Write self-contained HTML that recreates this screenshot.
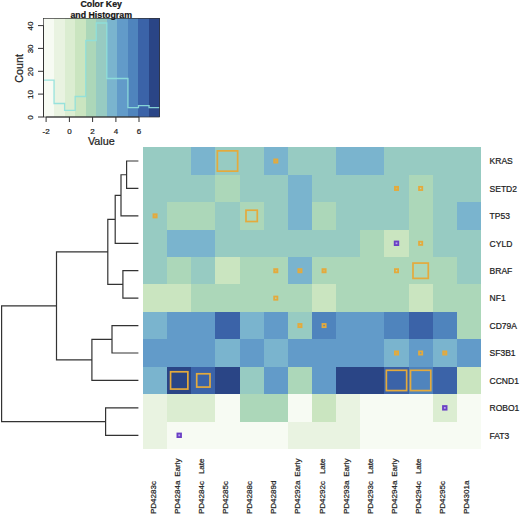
<!DOCTYPE html><html><head><meta charset="utf-8"><style>html,body{margin:0;padding:0;background:#fff;width:520px;height:515px;overflow:hidden}svg{display:block}text{font-family:"Liberation Sans", sans-serif}.t{stroke:#222;stroke-width:0.22px}</style></head><body>
<svg width="520" height="515" viewBox="0 0 520 515">
<rect width="520" height="515" fill="#fff"/>
<g shape-rendering="crispEdges">
<rect x="44" y="18" width="10" height="99" fill="#f7fbf3"/>
<rect x="54" y="18" width="11" height="99" fill="#e9f3e1"/>
<rect x="65" y="18" width="10" height="99" fill="#dbedd1"/>
<rect x="75" y="18" width="11" height="99" fill="#cae5c0"/>
<rect x="86" y="18" width="10" height="99" fill="#acd7b9"/>
<rect x="96" y="18" width="11" height="99" fill="#97cbc2"/>
<rect x="107" y="18" width="10" height="99" fill="#7ab4ce"/>
<rect x="117" y="18" width="11" height="99" fill="#629bc9"/>
<rect x="128" y="18" width="10" height="99" fill="#4f84bd"/>
<rect x="138" y="18" width="11" height="99" fill="#3b63a8"/>
<rect x="149" y="18" width="11" height="99" fill="#2a4586"/>
</g>
<path d="M43.5 80.2 L54.05 80.2 L54.05 103.5 L64.61 103.5 L64.61 110.3 L75.16 110.3 L75.16 96.5 L85.72 96.5 L85.72 40.5 L96.27 40.5 L96.27 23 L106.83 23 L106.83 78.5 L117.38 78.5 L117.38 78.5 L127.94 78.5 L127.94 107.7 L138.49 107.7 L138.49 105.7 L149.05 105.7 L149.05 107.7 L159.6 107.7" fill="none" stroke="#8ee0dc" stroke-width="1.3" opacity="0.9"/>
<rect x="43.5" y="18.5" width="116" height="98.5" fill="none" stroke="#333" stroke-width="0.7"/>
<line x1="46.1" y1="117" x2="139" y2="117" stroke="#333" stroke-width="1"/>
<line x1="46.1" y1="117" x2="46.1" y2="122" stroke="#333" stroke-width="1"/>
<text class="t" x="46.1" y="134" font-size="8" text-anchor="middle" fill="#222">-2</text>
<line x1="69.4" y1="117" x2="69.4" y2="122" stroke="#333" stroke-width="1"/>
<text class="t" x="69.4" y="134" font-size="8" text-anchor="middle" fill="#222">0</text>
<line x1="92.6" y1="117" x2="92.6" y2="122" stroke="#333" stroke-width="1"/>
<text class="t" x="92.6" y="134" font-size="8" text-anchor="middle" fill="#222">2</text>
<line x1="115.9" y1="117" x2="115.9" y2="122" stroke="#333" stroke-width="1"/>
<text class="t" x="115.9" y="134" font-size="8" text-anchor="middle" fill="#222">4</text>
<line x1="139" y1="117" x2="139" y2="122" stroke="#333" stroke-width="1"/>
<text class="t" x="139" y="134" font-size="8" text-anchor="middle" fill="#222">6</text>
<text class="t" x="101.3" y="144.7" font-size="10.8" text-anchor="middle" fill="#222">Value</text>
<line x1="43.5" y1="117" x2="43.5" y2="25.6" stroke="#333" stroke-width="1"/>
<line x1="38" y1="117" x2="43.5" y2="117" stroke="#333" stroke-width="1"/>
<text class="t" transform="translate(32.6 117.5) rotate(-90)" font-size="8" text-anchor="middle" fill="#222">0</text>
<line x1="38" y1="94.1" x2="43.5" y2="94.1" stroke="#333" stroke-width="1"/>
<text class="t" transform="translate(32.6 94.6) rotate(-90)" font-size="8" text-anchor="middle" fill="#222">10</text>
<line x1="38" y1="71.3" x2="43.5" y2="71.3" stroke="#333" stroke-width="1"/>
<text class="t" transform="translate(32.6 71.8) rotate(-90)" font-size="8" text-anchor="middle" fill="#222">20</text>
<line x1="38" y1="48.4" x2="43.5" y2="48.4" stroke="#333" stroke-width="1"/>
<text class="t" transform="translate(32.6 48.9) rotate(-90)" font-size="8" text-anchor="middle" fill="#222">30</text>
<line x1="38" y1="25.6" x2="43.5" y2="25.6" stroke="#333" stroke-width="1"/>
<text class="t" transform="translate(32.6 26.1) rotate(-90)" font-size="8" text-anchor="middle" fill="#222">40</text>
<text class="t" transform="translate(22.9 68.3) rotate(-90)" font-size="10.8" text-anchor="middle" fill="#222">Count</text>
<text class="t" x="101.2" y="7.3" font-size="8.8" font-weight="bold" text-anchor="middle" fill="#111">Color Key</text>
<text class="t" x="101.2" y="17.7" font-size="8.8" font-weight="bold" text-anchor="middle" fill="#111">and Histogram</text>
<g shape-rendering="crispEdges">
<rect x="143" y="147" width="24" height="28" fill="#97cbc2"/>
<rect x="167" y="147" width="24" height="28" fill="#97cbc2"/>
<rect x="191" y="147" width="24" height="28" fill="#7ab4ce"/>
<rect x="215" y="147" width="25" height="28" fill="#97cbc2"/>
<rect x="240" y="147" width="24" height="28" fill="#97cbc2"/>
<rect x="264" y="147" width="24" height="28" fill="#7ab4ce"/>
<rect x="288" y="147" width="24" height="28" fill="#97cbc2"/>
<rect x="312" y="147" width="24" height="28" fill="#97cbc2"/>
<rect x="336" y="147" width="24" height="28" fill="#7ab4ce"/>
<rect x="360" y="147" width="24" height="28" fill="#7ab4ce"/>
<rect x="384" y="147" width="25" height="28" fill="#97cbc2"/>
<rect x="409" y="147" width="24" height="28" fill="#97cbc2"/>
<rect x="433" y="147" width="24" height="28" fill="#97cbc2"/>
<rect x="457" y="147" width="24" height="28" fill="#97cbc2"/>
<rect x="143" y="175" width="24" height="27" fill="#97cbc2"/>
<rect x="167" y="175" width="24" height="27" fill="#97cbc2"/>
<rect x="191" y="175" width="24" height="27" fill="#97cbc2"/>
<rect x="215" y="175" width="25" height="27" fill="#acd7b9"/>
<rect x="240" y="175" width="24" height="27" fill="#97cbc2"/>
<rect x="264" y="175" width="24" height="27" fill="#97cbc2"/>
<rect x="288" y="175" width="24" height="27" fill="#7ab4ce"/>
<rect x="312" y="175" width="24" height="27" fill="#97cbc2"/>
<rect x="336" y="175" width="24" height="27" fill="#97cbc2"/>
<rect x="360" y="175" width="24" height="27" fill="#97cbc2"/>
<rect x="384" y="175" width="25" height="27" fill="#97cbc2"/>
<rect x="409" y="175" width="24" height="27" fill="#acd7b9"/>
<rect x="433" y="175" width="24" height="27" fill="#97cbc2"/>
<rect x="457" y="175" width="24" height="27" fill="#97cbc2"/>
<rect x="143" y="202" width="24" height="28" fill="#97cbc2"/>
<rect x="167" y="202" width="24" height="28" fill="#acd7b9"/>
<rect x="191" y="202" width="24" height="28" fill="#acd7b9"/>
<rect x="215" y="202" width="25" height="28" fill="#97cbc2"/>
<rect x="240" y="202" width="24" height="28" fill="#acd7b9"/>
<rect x="264" y="202" width="24" height="28" fill="#97cbc2"/>
<rect x="288" y="202" width="24" height="28" fill="#7ab4ce"/>
<rect x="312" y="202" width="24" height="28" fill="#acd7b9"/>
<rect x="336" y="202" width="24" height="28" fill="#97cbc2"/>
<rect x="360" y="202" width="24" height="28" fill="#97cbc2"/>
<rect x="384" y="202" width="25" height="28" fill="#97cbc2"/>
<rect x="409" y="202" width="24" height="28" fill="#acd7b9"/>
<rect x="433" y="202" width="24" height="28" fill="#97cbc2"/>
<rect x="457" y="202" width="24" height="28" fill="#7ab4ce"/>
<rect x="143" y="230" width="24" height="27" fill="#97cbc2"/>
<rect x="167" y="230" width="24" height="27" fill="#7ab4ce"/>
<rect x="191" y="230" width="24" height="27" fill="#7ab4ce"/>
<rect x="215" y="230" width="25" height="27" fill="#97cbc2"/>
<rect x="240" y="230" width="24" height="27" fill="#97cbc2"/>
<rect x="264" y="230" width="24" height="27" fill="#97cbc2"/>
<rect x="288" y="230" width="24" height="27" fill="#97cbc2"/>
<rect x="312" y="230" width="24" height="27" fill="#97cbc2"/>
<rect x="336" y="230" width="24" height="27" fill="#97cbc2"/>
<rect x="360" y="230" width="24" height="27" fill="#acd7b9"/>
<rect x="384" y="230" width="25" height="27" fill="#cae5c0"/>
<rect x="409" y="230" width="24" height="27" fill="#acd7b9"/>
<rect x="433" y="230" width="24" height="27" fill="#97cbc2"/>
<rect x="457" y="230" width="24" height="27" fill="#97cbc2"/>
<rect x="143" y="257" width="24" height="27" fill="#97cbc2"/>
<rect x="167" y="257" width="24" height="27" fill="#acd7b9"/>
<rect x="191" y="257" width="24" height="27" fill="#97cbc2"/>
<rect x="215" y="257" width="25" height="27" fill="#cae5c0"/>
<rect x="240" y="257" width="24" height="27" fill="#acd7b9"/>
<rect x="264" y="257" width="24" height="27" fill="#acd7b9"/>
<rect x="288" y="257" width="24" height="27" fill="#7ab4ce"/>
<rect x="312" y="257" width="24" height="27" fill="#acd7b9"/>
<rect x="336" y="257" width="24" height="27" fill="#acd7b9"/>
<rect x="360" y="257" width="24" height="27" fill="#acd7b9"/>
<rect x="384" y="257" width="25" height="27" fill="#acd7b9"/>
<rect x="409" y="257" width="24" height="27" fill="#acd7b9"/>
<rect x="433" y="257" width="24" height="27" fill="#acd7b9"/>
<rect x="457" y="257" width="24" height="27" fill="#97cbc2"/>
<rect x="143" y="284" width="24" height="28" fill="#cae5c0"/>
<rect x="167" y="284" width="24" height="28" fill="#cae5c0"/>
<rect x="191" y="284" width="24" height="28" fill="#acd7b9"/>
<rect x="215" y="284" width="25" height="28" fill="#acd7b9"/>
<rect x="240" y="284" width="24" height="28" fill="#acd7b9"/>
<rect x="264" y="284" width="24" height="28" fill="#acd7b9"/>
<rect x="288" y="284" width="24" height="28" fill="#acd7b9"/>
<rect x="312" y="284" width="24" height="28" fill="#cae5c0"/>
<rect x="336" y="284" width="24" height="28" fill="#acd7b9"/>
<rect x="360" y="284" width="24" height="28" fill="#acd7b9"/>
<rect x="384" y="284" width="25" height="28" fill="#acd7b9"/>
<rect x="409" y="284" width="24" height="28" fill="#cae5c0"/>
<rect x="433" y="284" width="24" height="28" fill="#acd7b9"/>
<rect x="457" y="284" width="24" height="28" fill="#acd7b9"/>
<rect x="143" y="312" width="24" height="27" fill="#7ab4ce"/>
<rect x="167" y="312" width="24" height="27" fill="#629bc9"/>
<rect x="191" y="312" width="24" height="27" fill="#629bc9"/>
<rect x="215" y="312" width="25" height="27" fill="#3b63a8"/>
<rect x="240" y="312" width="24" height="27" fill="#7ab4ce"/>
<rect x="264" y="312" width="24" height="27" fill="#629bc9"/>
<rect x="288" y="312" width="24" height="27" fill="#97cbc2"/>
<rect x="312" y="312" width="24" height="27" fill="#4f84bd"/>
<rect x="336" y="312" width="24" height="27" fill="#629bc9"/>
<rect x="360" y="312" width="24" height="27" fill="#629bc9"/>
<rect x="384" y="312" width="25" height="27" fill="#4f84bd"/>
<rect x="409" y="312" width="24" height="27" fill="#3b63a8"/>
<rect x="433" y="312" width="24" height="27" fill="#4f84bd"/>
<rect x="457" y="312" width="24" height="27" fill="#acd7b9"/>
<rect x="143" y="339" width="24" height="28" fill="#629bc9"/>
<rect x="167" y="339" width="24" height="28" fill="#629bc9"/>
<rect x="191" y="339" width="24" height="28" fill="#629bc9"/>
<rect x="215" y="339" width="25" height="28" fill="#7ab4ce"/>
<rect x="240" y="339" width="24" height="28" fill="#629bc9"/>
<rect x="264" y="339" width="24" height="28" fill="#7ab4ce"/>
<rect x="288" y="339" width="24" height="28" fill="#629bc9"/>
<rect x="312" y="339" width="24" height="28" fill="#629bc9"/>
<rect x="336" y="339" width="24" height="28" fill="#629bc9"/>
<rect x="360" y="339" width="24" height="28" fill="#629bc9"/>
<rect x="384" y="339" width="25" height="28" fill="#7ab4ce"/>
<rect x="409" y="339" width="24" height="28" fill="#629bc9"/>
<rect x="433" y="339" width="24" height="28" fill="#7ab4ce"/>
<rect x="457" y="339" width="24" height="28" fill="#629bc9"/>
<rect x="143" y="367" width="24" height="27" fill="#7ab4ce"/>
<rect x="167" y="367" width="24" height="27" fill="#2a4586"/>
<rect x="191" y="367" width="24" height="27" fill="#3b63a8"/>
<rect x="215" y="367" width="25" height="27" fill="#2a4586"/>
<rect x="240" y="367" width="24" height="27" fill="#97cbc2"/>
<rect x="264" y="367" width="24" height="27" fill="#629bc9"/>
<rect x="288" y="367" width="24" height="27" fill="#acd7b9"/>
<rect x="312" y="367" width="24" height="27" fill="#629bc9"/>
<rect x="336" y="367" width="24" height="27" fill="#2a4586"/>
<rect x="360" y="367" width="24" height="27" fill="#2a4586"/>
<rect x="384" y="367" width="25" height="27" fill="#3b63a8"/>
<rect x="409" y="367" width="24" height="27" fill="#4f84bd"/>
<rect x="433" y="367" width="24" height="27" fill="#3b63a8"/>
<rect x="457" y="367" width="24" height="27" fill="#cae5c0"/>
<rect x="143" y="394" width="24" height="28" fill="#e9f3e1"/>
<rect x="167" y="394" width="24" height="28" fill="#dbedd1"/>
<rect x="191" y="394" width="24" height="28" fill="#dbedd1"/>
<rect x="215" y="394" width="25" height="28" fill="#f7fbf3"/>
<rect x="240" y="394" width="24" height="28" fill="#acd7b9"/>
<rect x="264" y="394" width="24" height="28" fill="#acd7b9"/>
<rect x="288" y="394" width="24" height="28" fill="#f7fbf3"/>
<rect x="312" y="394" width="24" height="28" fill="#cae5c0"/>
<rect x="336" y="394" width="24" height="28" fill="#e9f3e1"/>
<rect x="360" y="394" width="24" height="28" fill="#f7fbf3"/>
<rect x="384" y="394" width="25" height="28" fill="#f7fbf3"/>
<rect x="409" y="394" width="24" height="28" fill="#f7fbf3"/>
<rect x="433" y="394" width="24" height="28" fill="#dbedd1"/>
<rect x="457" y="394" width="24" height="28" fill="#f7fbf3"/>
<rect x="143" y="422" width="24" height="27" fill="#e9f3e1"/>
<rect x="167" y="422" width="24" height="27" fill="#f7fbf3"/>
<rect x="191" y="422" width="24" height="27" fill="#f7fbf3"/>
<rect x="215" y="422" width="25" height="27" fill="#f7fbf3"/>
<rect x="240" y="422" width="24" height="27" fill="#f7fbf3"/>
<rect x="264" y="422" width="24" height="27" fill="#f7fbf3"/>
<rect x="288" y="422" width="24" height="27" fill="#e9f3e1"/>
<rect x="312" y="422" width="24" height="27" fill="#e9f3e1"/>
<rect x="336" y="422" width="24" height="27" fill="#e9f3e1"/>
<rect x="360" y="422" width="24" height="27" fill="#f7fbf3"/>
<rect x="384" y="422" width="25" height="27" fill="#f7fbf3"/>
<rect x="409" y="422" width="24" height="27" fill="#f7fbf3"/>
<rect x="433" y="422" width="24" height="27" fill="#f7fbf3"/>
<rect x="457" y="422" width="24" height="27" fill="#f7fbf3"/>
</g>
<rect x="217.35" y="150.86" width="20.3" height="20.3" fill="none" stroke="#e4aa3c" stroke-width="1.7"/>
<rect x="274.19" y="159.41" width="3.2" height="3.2" fill="#e4aa3c" fill-opacity="0.55" stroke="#e4aa3c" stroke-width="1.8"/>
<rect x="394.9" y="186.84" width="3.2" height="3.2" fill="#e4aa3c" fill-opacity="0.55" stroke="#e4aa3c" stroke-width="1.8"/>
<rect x="419.04" y="186.84" width="3.2" height="3.2" fill="none" stroke="#e4aa3c" stroke-width="1.8"/>
<rect x="153.47" y="214.27" width="3.2" height="3.2" fill="#e4aa3c" fill-opacity="0.55" stroke="#e4aa3c" stroke-width="1.8"/>
<rect x="245.99" y="210.22" width="11.3" height="11.3" fill="none" stroke="#e4aa3c" stroke-width="1.7"/>
<rect x="394.7" y="241.5" width="3.6" height="3.6" fill="#b9a6ee" stroke="#6a3fc4" stroke-width="1.8"/>
<rect x="419.04" y="241.7" width="3.2" height="3.2" fill="none" stroke="#e4aa3c" stroke-width="1.8"/>
<rect x="274.19" y="269.12" width="3.2" height="3.2" fill="#e4aa3c" fill-opacity="0.55" stroke="#e4aa3c" stroke-width="1.8"/>
<rect x="298.33" y="269.12" width="3.2" height="3.2" fill="#e4aa3c" fill-opacity="0.55" stroke="#e4aa3c" stroke-width="1.8"/>
<rect x="322.47" y="269.12" width="3.2" height="3.2" fill="#e4aa3c" fill-opacity="0.55" stroke="#e4aa3c" stroke-width="1.8"/>
<rect x="394.9" y="269.12" width="3.2" height="3.2" fill="none" stroke="#e4aa3c" stroke-width="1.8"/>
<rect x="412.99" y="263.07" width="15.3" height="15.3" fill="none" stroke="#e4aa3c" stroke-width="1.7"/>
<rect x="274.19" y="296.55" width="3.2" height="3.2" fill="none" stroke="#e4aa3c" stroke-width="1.8"/>
<rect x="298.33" y="323.98" width="3.2" height="3.2" fill="#e4aa3c" fill-opacity="0.55" stroke="#e4aa3c" stroke-width="1.8"/>
<rect x="322.47" y="323.98" width="3.2" height="3.2" fill="none" stroke="#e4aa3c" stroke-width="1.8"/>
<rect x="394.9" y="351.4" width="3.2" height="3.2" fill="#e4aa3c" fill-opacity="0.55" stroke="#e4aa3c" stroke-width="1.8"/>
<rect x="419.04" y="351.4" width="3.2" height="3.2" fill="none" stroke="#e4aa3c" stroke-width="1.8"/>
<rect x="443.19" y="351.4" width="3.2" height="3.2" fill="#e4aa3c" fill-opacity="0.55" stroke="#e4aa3c" stroke-width="1.8"/>
<rect x="170.56" y="371.78" width="17.3" height="17.3" fill="none" stroke="#e4aa3c" stroke-width="1.7"/>
<rect x="196.71" y="373.78" width="13.3" height="13.3" fill="none" stroke="#e4aa3c" stroke-width="1.7"/>
<rect x="386.35" y="370.28" width="20.3" height="20.3" fill="none" stroke="#e4aa3c" stroke-width="1.7"/>
<rect x="410.49" y="370.28" width="20.3" height="20.3" fill="none" stroke="#e4aa3c" stroke-width="1.7"/>
<rect x="442.99" y="406.06" width="3.6" height="3.6" fill="#b9a6ee" stroke="#6a3fc4" stroke-width="1.8"/>
<rect x="177.41" y="433.49" width="3.6" height="3.6" fill="#b9a6ee" stroke="#6a3fc4" stroke-width="1.8"/>
<text class="t" x="489.6" y="164.31" font-size="8.5" fill="#1a1a1a">KRAS</text>
<text class="t" x="489.6" y="191.74" font-size="8.5" fill="#1a1a1a">SETD2</text>
<text class="t" x="489.6" y="219.17" font-size="8.5" fill="#1a1a1a">TP53</text>
<text class="t" x="489.6" y="246.6" font-size="8.5" fill="#1a1a1a">CYLD</text>
<text class="t" x="489.6" y="274.02" font-size="8.5" fill="#1a1a1a">BRAF</text>
<text class="t" x="489.6" y="301.45" font-size="8.5" fill="#1a1a1a">NF1</text>
<text class="t" x="489.6" y="328.88" font-size="8.5" fill="#1a1a1a">CD79A</text>
<text class="t" x="489.6" y="356.3" font-size="8.5" fill="#1a1a1a">SF3B1</text>
<text class="t" x="489.6" y="383.73" font-size="8.5" fill="#1a1a1a">CCND1</text>
<text class="t" x="489.6" y="411.16" font-size="8.5" fill="#1a1a1a">ROBO1</text>
<text class="t" x="489.6" y="438.59" font-size="8.5" fill="#1a1a1a">FAT3</text>
<text class="t" transform="translate(155.57 514) rotate(-90)" font-size="8" fill="#222">PD4283c</text>
<text class="t" transform="translate(179.71 514) rotate(-90)" font-size="8" fill="#222">PD4284a</text>
<text class="t" transform="translate(179.71 458.5) rotate(-90)" font-size="8" text-anchor="end" fill="#222">Early</text>
<text class="t" transform="translate(203.86 514) rotate(-90)" font-size="8" fill="#222">PD4284c</text>
<text class="t" transform="translate(203.86 458.5) rotate(-90)" font-size="8" text-anchor="end" fill="#222">Late</text>
<text class="t" transform="translate(228 514) rotate(-90)" font-size="8" fill="#222">PD4285c</text>
<text class="t" transform="translate(252.14 514) rotate(-90)" font-size="8" fill="#222">PD4288c</text>
<text class="t" transform="translate(276.29 514) rotate(-90)" font-size="8" fill="#222">PD4289d</text>
<text class="t" transform="translate(300.43 514) rotate(-90)" font-size="8" fill="#222">PD4292a</text>
<text class="t" transform="translate(300.43 458.5) rotate(-90)" font-size="8" text-anchor="end" fill="#222">Early</text>
<text class="t" transform="translate(324.57 514) rotate(-90)" font-size="8" fill="#222">PD4292c</text>
<text class="t" transform="translate(324.57 458.5) rotate(-90)" font-size="8" text-anchor="end" fill="#222">Late</text>
<text class="t" transform="translate(348.71 514) rotate(-90)" font-size="8" fill="#222">PD4293a</text>
<text class="t" transform="translate(348.71 458.5) rotate(-90)" font-size="8" text-anchor="end" fill="#222">Early</text>
<text class="t" transform="translate(372.86 514) rotate(-90)" font-size="8" fill="#222">PD4293c</text>
<text class="t" transform="translate(372.86 458.5) rotate(-90)" font-size="8" text-anchor="end" fill="#222">Late</text>
<text class="t" transform="translate(397 514) rotate(-90)" font-size="8" fill="#222">PD4294a</text>
<text class="t" transform="translate(397 458.5) rotate(-90)" font-size="8" text-anchor="end" fill="#222">Early</text>
<text class="t" transform="translate(421.14 514) rotate(-90)" font-size="8" fill="#222">PD4294c</text>
<text class="t" transform="translate(421.14 458.5) rotate(-90)" font-size="8" text-anchor="end" fill="#222">Late</text>
<text class="t" transform="translate(445.29 514) rotate(-90)" font-size="8" fill="#222">PD4295c</text>
<text class="t" transform="translate(469.43 514) rotate(-90)" font-size="8" fill="#222">PD4301a</text>
<path d="M126.6 161.01L126.6 188.44 M137.8 161.01L126.6 161.01 M137.8 188.44L126.6 188.44 M121 174.73L121 215.87 M126.6 174.73L121 174.73 M137.8 215.87L121 215.87 M115.2 195.3L115.2 243.3 M121 195.3L115.2 195.3 M137.8 243.3L115.2 243.3 M122.9 270.72L122.9 298.15 M137.8 270.72L122.9 270.72 M137.8 298.15L122.9 298.15 M107.8 219.3L107.8 284.44 M115.2 219.3L107.8 219.3 M122.9 284.44L107.8 284.44 M112 325.58L112 353 M137.8 325.58L112 325.58 M137.8 353L112 353 M91.9 339.29L91.9 380.43 M112 339.29L91.9 339.29 M137.8 380.43L91.9 380.43 M56.5 251.87L56.5 359.86 M107.8 251.87L56.5 251.87 M91.9 359.86L56.5 359.86 M105.6 407.86L105.6 435.29 M137.8 407.86L105.6 407.86 M137.8 435.29L105.6 435.29 M1.6 305.86L1.6 421.57 M56.5 305.86L1.6 305.86 M105.6 421.57L1.6 421.57" fill="none" stroke="#333" stroke-width="1.2" stroke-linecap="square"/>
</svg></body></html>
